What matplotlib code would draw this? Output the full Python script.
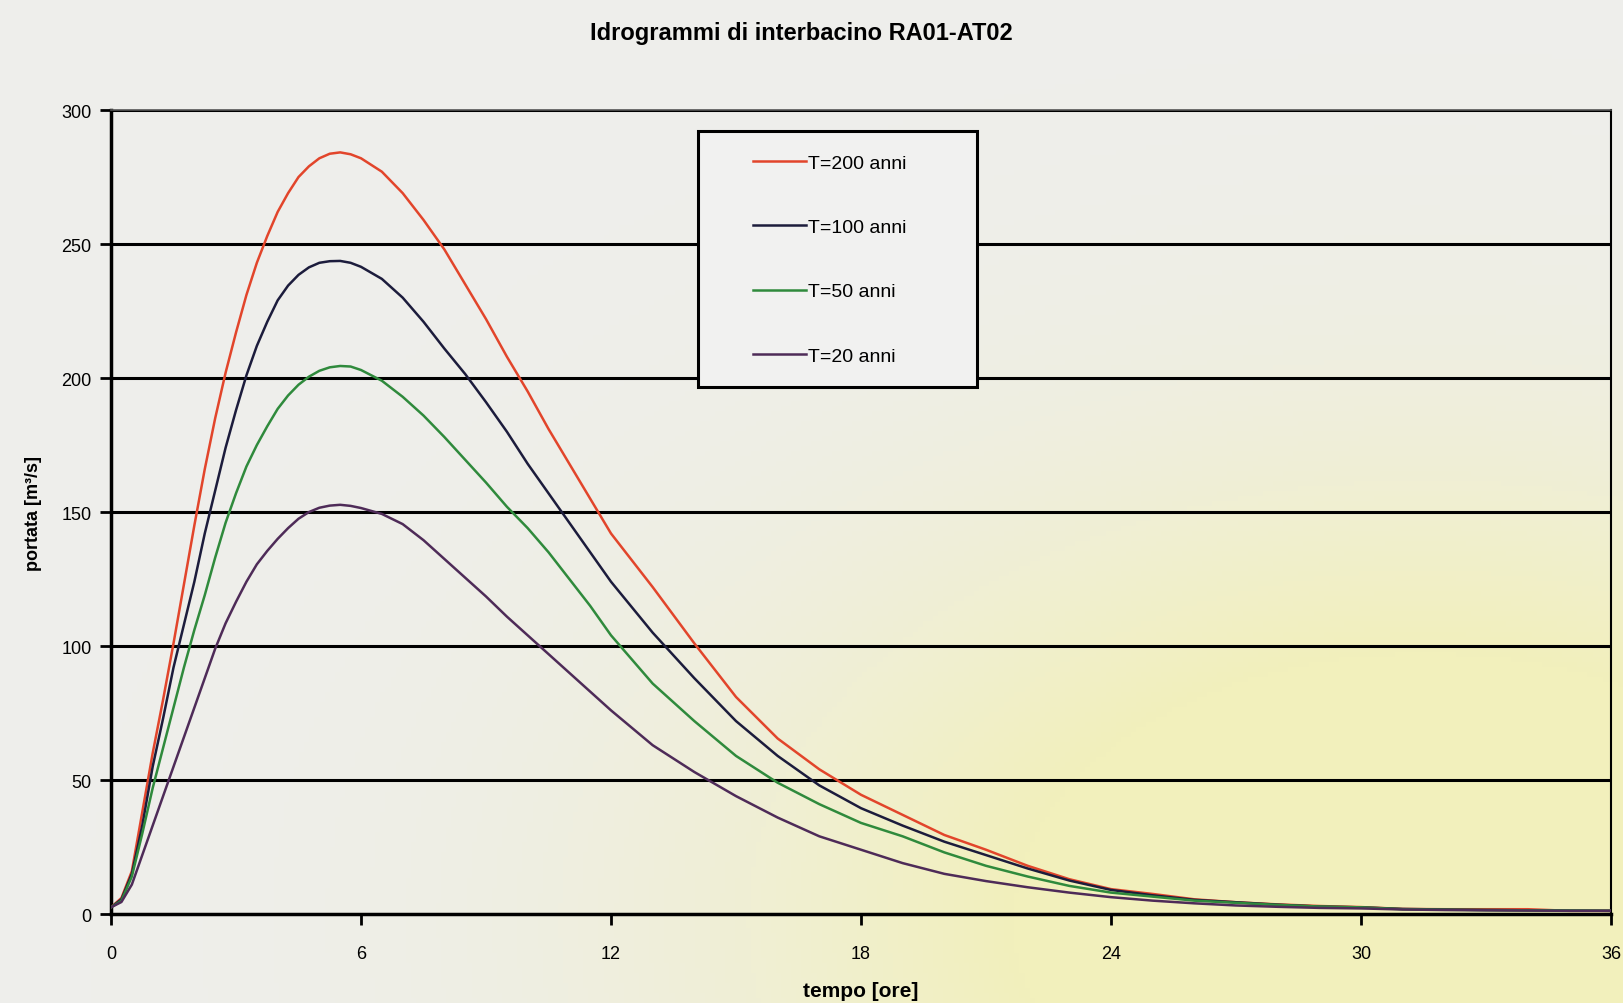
import numpy as np
import matplotlib
matplotlib.use("Agg")
import matplotlib.pyplot as plt
from matplotlib.patches import Rectangle

plt.rcParams['font.family'] = ['Liberation Sans', 'DejaVu Sans']

# tempo [ore]
ore = [0, 0.25, 0.5, 0.75, 1, 1.25, 1.5, 1.75, 2, 2.25, 2.5, 2.75, 3, 3.25, 3.5, 3.75,
       4, 4.25, 4.5, 4.75, 5, 5.25, 5.5, 5.75, 6,
       6.5, 7, 7.5, 8, 8.5, 9, 9.5, 10, 10.5, 11, 11.5, 12,
       13, 14, 15, 16, 17, 18, 19, 20, 21, 22, 23, 24, 25, 26, 27, 28, 29, 30,
       31, 32, 33, 34, 35, 36]

# portata [m3/s]
q200 = [2.5, 6, 16, 38, 60, 80, 101, 123, 145, 166, 185, 202, 217, 231, 243, 253,
        262, 269, 275, 279, 282, 283.7, 284.2, 283.5, 282,
        277, 269, 259, 248, 235, 222, 208, 195, 181, 168, 155, 142,
        122, 101, 81, 65.5, 54, 44.5, 37, 29.5, 24, 18, 13, 9.3, 7.5, 5.5, 4.4, 3.6, 3.0, 2.6,
        1.9, 1.8, 1.8, 1.8, 1.2, 1.2]
q100 = [2.5, 5.5, 15, 33, 55, 73, 92, 108, 124, 142, 158, 174, 188, 201, 212, 221,
        229, 234.5, 238.5, 241.3, 243, 243.6, 243.7, 243, 241.5,
        237, 230, 221, 211, 201.5, 191, 180, 168, 157, 146, 135, 124,
        105, 88, 72, 59, 48, 39.5, 33, 27, 22, 17, 12.5, 9, 7, 5.3, 4.4, 3.5, 2.8, 2.5,
        1.9, 1.7, 1.5, 1.4, 1.3, 1.2]
q50 = [2.5, 5, 14, 30, 47, 62, 77, 92, 106, 119, 133, 146, 157, 167, 175, 182,
       188.5, 193.5, 197.5, 200.5, 202.7, 204, 204.5, 204.3, 203,
       199, 193, 186, 178, 169.5, 161, 152, 144, 135, 125, 115, 104,
       86, 72, 59, 49, 41, 34, 29, 23, 18, 14, 10.5, 8, 6.5, 5, 4.2, 3.4, 2.8, 2.5,
       1.8, 1.6, 1.5, 1.4, 1.3, 1.2]
q20 = [2.5, 4.5, 11, 22, 33, 44, 55, 66, 77, 88, 99, 108.5, 116.5, 124, 130.5, 135.5,
       140, 144, 147.5, 150, 151.6, 152.4, 152.7, 152.3, 151.5,
       149.3, 145.5, 139.5, 132.5, 125.5, 118.5, 111, 104, 97, 90, 83, 76,
       63, 53, 44, 36, 29, 24, 19, 15, 12.3, 10, 8, 6.3, 5, 4, 3.2, 2.7, 2.3, 2.1,
       1.7, 1.5, 1.4, 1.3, 1.2, 1.2]

serie = [("T=200 anni", q200, "#e2452b"),
         ("T=100 anni", q100, "#1c1c3c"),
         ("T=50 anni", q50, "#2f8a3c"),
         ("T=20 anni", q20, "#4e2b58")]

fig = plt.figure(figsize=(16.23, 10.04), dpi=100)

# sfondo carta scansionata (grigio con alone giallo in basso a destra)
bg = fig.add_axes([0, 0, 1, 1], zorder=-10)
yy, xx = np.mgrid[0:1:200j, 0:1:320j]
w = np.clip(1.5 * np.exp(-(((xx - 0.88) / 0.40) ** 2 + ((yy - 0.08) / 0.42) ** 2)), 0, 1)
grigio = np.array([238, 238, 236]) / 255.0
giallo = np.array([242, 240, 188]) / 255.0
img = grigio[None, None, :] * (1 - w[..., None]) + giallo[None, None, :] * w[..., None]
bg.imshow(img, origin="lower", extent=[0, 1, 0, 1], aspect="auto")
bg.axis("off")

ax = fig.add_axes([0.0684, 0.0886, 0.9242, 0.8008])
ax.set_facecolor("none")

for nome, q, col in serie:
    ax.plot(ore, q, color=col, lw=1.8, label=nome, zorder=3)

ax.set_xlim(0, 36)
ax.set_ylim(0, 300)
ax.set_xticks(range(0, 37, 6))
ax.set_yticks(range(0, 301, 50))
for v in range(50, 301, 50):
    ax.axhline(v, color="black", lw=2.2, zorder=1)

for s in ["left", "bottom"]:
    ax.spines[s].set_linewidth(2.5)
ax.spines["right"].set_linewidth(1.5)
ax.spines["top"].set_linewidth(1.2)
ax.spines["top"].set_color("#555555")
ax.tick_params(direction="out", length=8, width=2, labelsize=13)
ax.tick_params(axis="x", pad=14)
ax.tick_params(axis="y", pad=6)

ax.set_xlabel("tempo [ore]", fontsize=15, fontweight="bold", labelpad=14)
ax.set_ylabel("portata [m³/s]", fontsize=13, fontweight="bold", labelpad=14)
fig.suptitle("Idrogrammi di interbacino RA01-AT02", fontsize=17, fontweight="bold",
             x=0.494, y=0.978)

# riquadro legenda
ax.add_patch(Rectangle((0.391, 0.656), 0.1865, 0.318, transform=ax.transAxes,
                       facecolor="#f1f1f0", edgecolor="black", lw=2.2, zorder=5))
ax.legend(loc="upper left", bbox_to_anchor=(0.428, 0.945), frameon=False,
          fontsize=14, handlelength=2.7, handletextpad=0.15, labelspacing=2.4,
          borderpad=0, borderaxespad=0).set_zorder(6)

fig.savefig("out.png", dpi=100)
